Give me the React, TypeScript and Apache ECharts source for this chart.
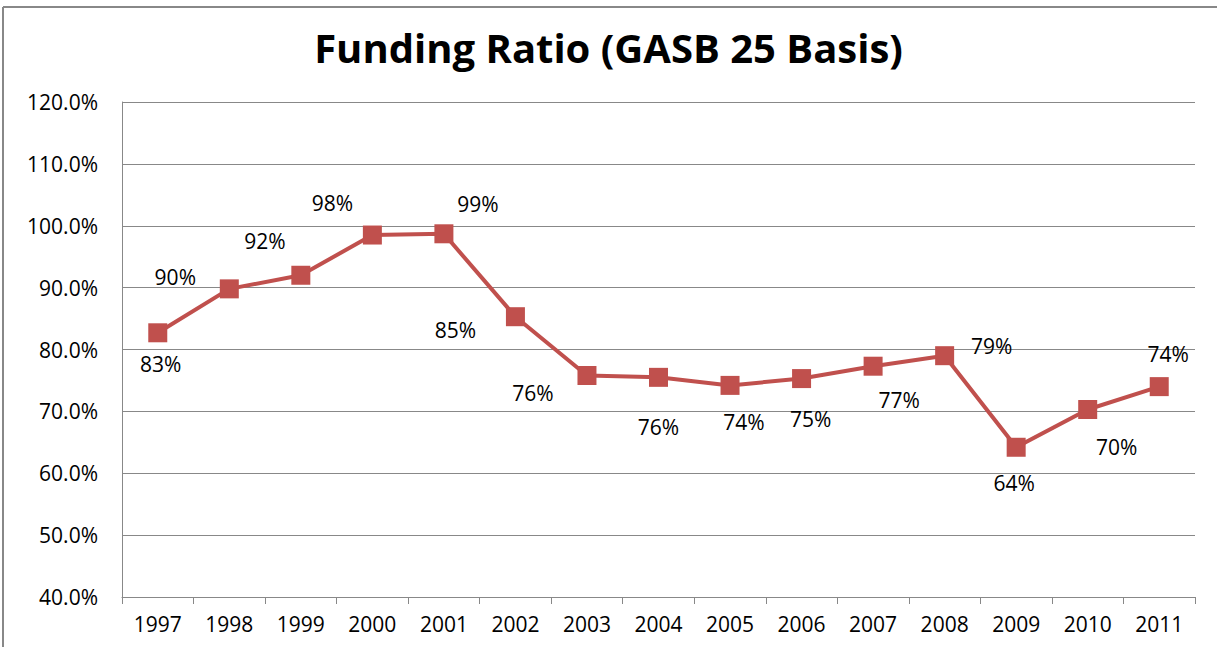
import React, { useEffect, useRef } from "react";
import * as echarts from "echarts";

const title = "Funding Ratio (GASB 25 Basis)";
const years = ["1997","1998","1999","2000","2001","2002","2003","2004","2005","2006","2007","2008","2009","2010","2011"];
const ratios = [82.7, 89.8, 92.0, 98.5, 98.7, 85.3, 75.8, 75.5, 74.2, 75.3, 77.3, 79.0, 64.2, 70.3, 74.0];
const labelTexts = ["83%","90%","92%","98%","99%","85%","76%","76%","74%","75%","77%","79%","64%","70%","74%"];
// label offsets [dx, dy] relative to point (styling only)
const labelOffsets: [number, number][] = [
  [3, 31], [-54, -12], [-36, -34], [-40, -32], [34, -30], [-60, 13], [-54, 18], [0, 50], [14, 37], [9, 40], [26, 34], [47, -10], [-2, 36], [29, 37], [9, -33],
];

const FONT = "'Open Sans', 'Noto Sans', sans-serif";

export default function App() {
  const ref = useRef<HTMLDivElement>(null);
  useEffect(() => {
    document.body.style.margin = "0";
    const chart = echarts.init(ref.current!, null, { renderer: "svg" });
    chart.setOption({
      animation: false,
      backgroundColor: "#ffffff",
      title: {
        text: title,
        left: "center",
        top: 22,
        textStyle: { fontFamily: FONT, fontWeight: "bold", fontSize: 40, color: "#000" },
      },
      graphic: [
        { type: "line", shape: { x1: 3, y1: 7, x2: 1217, y2: 7 }, style: { stroke: "#888", lineWidth: 2 } },
        { type: "line", shape: { x1: 3, y1: 7, x2: 3, y2: 647 }, style: { stroke: "#888", lineWidth: 2 } },
      ],
      grid: { left: 122, right: 22, top: 102, bottom: 50 },
      xAxis: {
        type: "category",
        data: years,
        boundaryGap: true,
        axisLine: { lineStyle: { color: "#888", width: 1 } },
        axisTick: { show: true, alignWithLabel: false, length: 7, lineStyle: { color: "#888" } },
        axisLabel: { fontFamily: FONT, fontSize: 21, color: "#000", margin: 16 },
        splitLine: { show: false },
      },
      yAxis: {
        type: "value",
        min: 40,
        max: 120,
        interval: 10,
        axisLine: { show: true, lineStyle: { color: "#888", width: 1 } },
        axisTick: { show: false },
        axisLabel: {
          fontFamily: FONT,
          fontSize: 21,
          color: "#000",
          margin: 24,
          formatter: (v: number) => v.toFixed(1) + "%",
        },
        splitLine: { lineStyle: { color: "#888", width: 1 } },
      },
      series: [
        {
          type: "line",
          data: ratios.map((v, i) => ({
            value: v,
            label: {
              show: true,
              position: "inside",
              offset: labelOffsets[i],
              formatter: labelTexts[i],
              fontFamily: FONT,
              fontSize: 21,
              color: "#000",
            },
          })),
          symbol: "rect",
          symbolSize: 19,
          itemStyle: { color: "#C0504D" },
          lineStyle: { color: "#C0504D", width: 4 },
        },
      ],
    });
    return () => chart.dispose();
  }, []);
  return <div ref={ref} style={{ width: 1217, height: 647 }} />;
}
